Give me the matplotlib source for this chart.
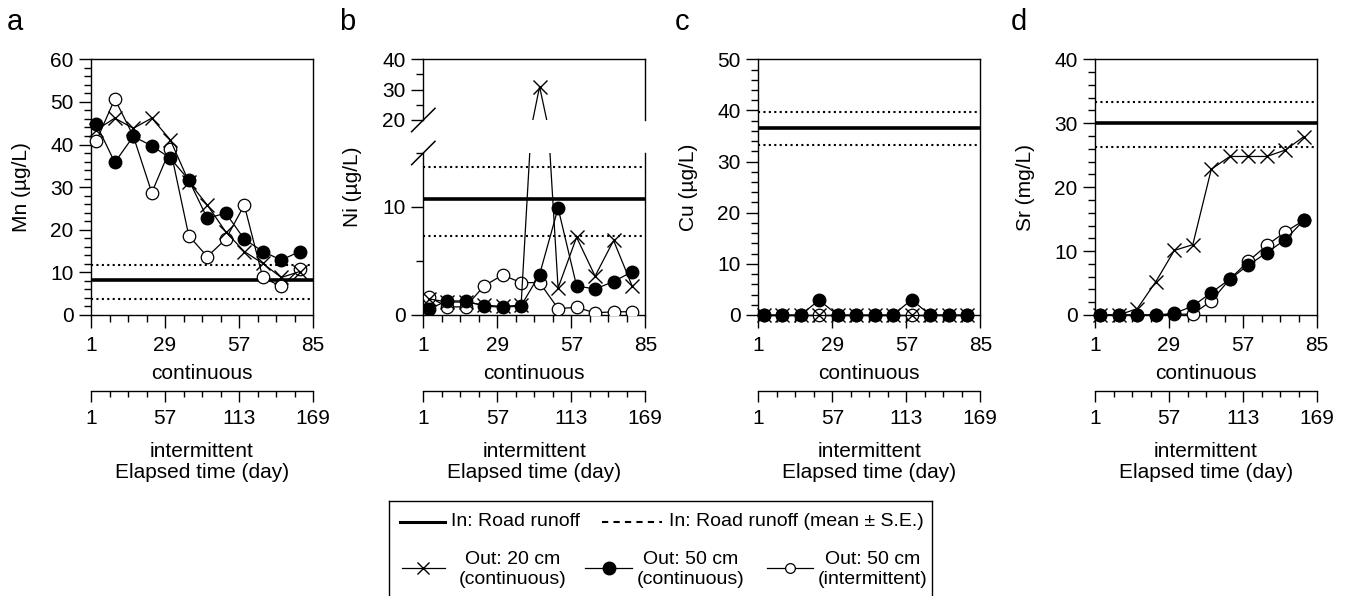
import matplotlib.pyplot as plt
import numpy as np

plt.rcParams['font.family'] = ['Liberation Sans', 'DejaVu Sans']
plt.rcParams['font.size'] = 15

# sampling days on the continuous scale (intermittent samples share the positions)
days = [3, 10, 17, 24, 31, 38, 45, 52, 59, 66, 73, 80]

# Out: 20 cm (continuous), Out: 50 cm (continuous), Out: 50 cm (intermittent)
mn_20 = [43.4, 46.2, 43.8, 46.2, 41.1, 31.3, 25.8, 19.5, 14.9, 12.1, 8.8, 10.2]
mn_50c = [44.8, 35.8, 41.9, 39.7, 36.8, 31.7, 22.7, 23.9, 17.8, 14.9, 12.9, 14.9]
mn_50i = [40.8, 50.7, 42.0, 28.7, 39.0, 18.6, 13.7, 17.8, 25.8, 8.8, 6.7, 10.8]

ni_20 = [1.5, 1.2, 1.2, 0.9, 0.8, 0.9, 31.0, 2.5, 7.2, 3.6, 6.9, 2.7]
ni_50c = [0.55, 1.3, 1.3, 0.85, 0.7, 0.85, 3.75, 9.9, 2.7, 2.4, 3.1, 4.0]
ni_50i = [1.7, 0.75, 0.75, 2.7, 3.7, 3.0, 3.0, 0.6, 0.7, 0.2, 0.3, 0.3]

cu_20 = [0, 0, 0, 0, 0, 0, 0, 0, 0, 0, 0, 0]
cu_50c = [0, 0, 0, 2.9, 0, 0, 0, 0, 3.0, 0, 0, 0]
cu_50i = [0, 0, 0, 0, 0, 0, 0, 0, 0, 0, 0, 0]

sr_20 = [0, 0, 1.0, 5.2, 10.1, 11.0, 22.8, 24.8, 24.8, 24.8, 25.8, 27.9]
sr_50c = [0, 0, 0, 0, 0.25, 1.4, 3.5, 5.6, 7.8, 9.75, 11.8, 14.8]
sr_50i = [0, 0, 0, 0, 0.1, 0.15, 2.2, 5.6, 8.4, 10.9, 13.0, 14.8]

# inflow (road runoff): mean and mean +/- S.E.
in_mean = [8.1, 10.7, 36.6, 30.1]
in_hi = [11.7, 13.75, 39.6, 33.3]
in_lo = [3.7, 7.3, 33.2, 26.3]

panel_letters = ['a', 'b', 'c', 'd']
ylabels = ['Mn (µg/L)', 'Ni (µg/L)', 'Cu (µg/L)', 'Sr (mg/L)']
ytops = [60, 40, 50, 40]
series = [(mn_20, mn_50c, mn_50i), (ni_20, ni_50c, ni_50i),
          (cu_20, cu_50c, cu_50i), (sr_20, sr_50c, sr_50i)]

W, H = 1351, 596
fig = plt.figure(figsize=(W / 100, H / 100), dpi=100)

lefts = [91, 423.3, 758.3, 1095]
ax_w = 222
top_px, bot_px = 59.3, 315
PX = 0.72  # points per pixel at dpi 100


def fbox(x0, y0, x1, y1):
    return [x0 / W, 1 - y1 / H, (x1 - x0) / W, (y1 - y0) / H]


def style_y(ax):
    ax.tick_params(axis='y', which='major', direction='out', length=12 * PX, width=1, pad=4)
    ax.tick_params(axis='y', which='minor', direction='out', length=7 * PX, width=1)
    ax.tick_params(axis='x', which='major', direction='out', length=13 * PX, width=1, pad=6)
    ax.tick_params(axis='x', which='minor', direction='out', length=7 * PX, width=1)
    for s in ax.spines.values():
        s.set_linewidth(1.0)


def draw_series(ax, s20, s50c, s50i, clip=True):
    ax.plot(days, s50i, color='black', lw=0.9, marker='o', ms=9, mfc='white',
            mec='black', mew=0.9, zorder=3, clip_on=clip)
    ax.plot(days, s20, color='black', lw=0.9, marker='x', ms=10, mew=1.0, zorder=4,
            clip_on=clip)
    ax.plot(days, s50c, color='black', lw=0.9, marker='o', ms=9, mfc='black',
            mec='black', zorder=5, clip_on=clip)


def draw_inflow(ax, i):
    ax.axhline(in_mean[i], color='black', lw=2.6, zorder=2)
    ax.axhline(in_hi[i], color='black', lw=1.5, ls=(0, (1, 1.6)), zorder=2)
    ax.axhline(in_lo[i], color='black', lw=1.5, ls=(0, (1, 1.6)), zorder=2)


def setup_x(ax, h_px):
    ax.set_xlim(1, 85)
    ax.set_xticks([1, 29, 57, 85])
    ax.set_xticks(np.arange(1, 86, 7), minor=True)
    ax.set_xlabel('continuous', labelpad=6.5)
    sec = ax.secondary_xaxis((bot_px - 391) / h_px,
                             functions=(lambda x: 2 * x - 1, lambda x: (x + 1) / 2))
    sec.set_xticks([1, 57, 113, 169])
    sec.set_xticks(np.arange(1, 170, 14), minor=True)
    sec.tick_params(axis='x', which='major', direction='out', length=11 * PX, width=1, pad=5)
    sec.tick_params(axis='x', which='minor', direction='out', length=6 * PX, width=1)
    sec.spines['bottom'].set_linewidth(1.0)
    sec.set_xlabel('intermittent\nElapsed time (day)', labelpad=10, linespacing=1.15)


for i in range(4):
    x0 = lefts[i]
    fig.text((x0 - 76) / W, 1 - 22 / H, panel_letters[i], fontsize=21,
             ha='center', va='center')
    if i != 1:
        ax = fig.add_axes(fbox(x0, top_px, x0 + ax_w, bot_px))
        draw_inflow(ax, i)
        draw_series(ax, *series[i], clip=False)
        ax.set_ylim(0, ytops[i])
        ax.set_yticks(np.arange(0, ytops[i] + 1, 10))
        ax.set_yticks(np.arange(0, ytops[i] + 1, 2), minor=True)
        style_y(ax)
        setup_x(ax, bot_px - top_px)
        ax.set_ylabel(ylabels[i])
        ax.yaxis.set_label_coords(-60 / ax_w, 0.5)
    else:
        # broken y axis for Ni
        axu = fig.add_axes(fbox(x0, top_px, x0 + ax_w, 120))
        axl = fig.add_axes(fbox(x0, 153, x0 + ax_w, bot_px))
        for ax in (axu, axl):
            draw_inflow(ax, i)
            draw_series(ax, *series[i])
            style_y(ax)
        axu.set_ylim(20, 40)
        axu.set_yticks([20, 30, 40])
        axu.set_yticks([25, 35], minor=True)
        axu.set_xlim(1, 85)
        axu.spines['bottom'].set_visible(False)
        axu.tick_params(axis='x', which='both', bottom=False, labelbottom=False)
        axl.set_ylim(0, 15)
        axl.set_yticks([0, 10])
        axl.set_yticks([5, 15], minor=True)
        axl.spines['top'].set_visible(False)
        setup_x(axl, bot_px - 153)
        axl.set_ylabel(ylabels[i])
        axl.yaxis.set_label_coords(-61 / ax_w, (315 - 187) / (315 - 153))
        # break marks
        d = 11.7
        hu = 120 - top_px
        hl = 315 - 153
        axu.plot([-d / ax_w, d / ax_w], [-d / hu, d / hu], transform=axu.transAxes,
                 color='black', lw=1.1, clip_on=False)
        axl.plot([-d / ax_w, d / ax_w], [1 - d / hl, 1 + d / hl], transform=axl.transAxes,
                 color='black', lw=1.1, clip_on=False)

# legend box drawn by hand
lfs = 14
lg = fig.add_axes(fbox(389, 501, 932, 602))
lg.set_xlim(389, 932)
lg.set_ylim(602, 501)
lg.set_xticks([])
lg.set_yticks([])
for s in lg.spines.values():
    s.set_linewidth(1.0)
r1 = 521.7
r2 = 568
lg.plot([400, 445], [r1, r1], color='black', lw=2.2)
lg.text(451, r1, 'In: Road runoff', va='center', ha='left', fontsize=lfs)
lg.plot([602, 662], [r1, r1], color='black', lw=1.5, ls=(0, (3, 2.5)))
lg.text(669, r1, 'In: Road runoff (mean ± S.E.)', va='center', ha='left', fontsize=lfs)

lg.plot([402, 445], [r2, r2], color='black', lw=0.9)
lg.plot([423.5], [r2], color='black', marker='x', ms=9, mew=1.0)
lg.text(513, r2 + 1.5, 'Out: 20 cm\n(continuous)', va='center', ha='center',
        linespacing=1.22, fontsize=lfs)

lg.plot([585, 632], [r2, r2], color='black', lw=0.9)
lg.plot([608.5], [r2], color='black', marker='o', ms=9, mfc='black')
lg.text(691, r2 + 1.5, 'Out: 50 cm\n(continuous)', va='center', ha='center',
        linespacing=1.22, fontsize=lfs)

lg.plot([767, 813], [r2, r2], color='black', lw=0.9)
lg.plot([790], [r2], color='black', marker='o', ms=7, mfc='white', mew=0.9)
lg.text(873, r2 + 1.5, 'Out: 50 cm\n(intermittent)', va='center', ha='center',
        linespacing=1.22, fontsize=lfs)

fig.savefig('out.png', dpi=100)
